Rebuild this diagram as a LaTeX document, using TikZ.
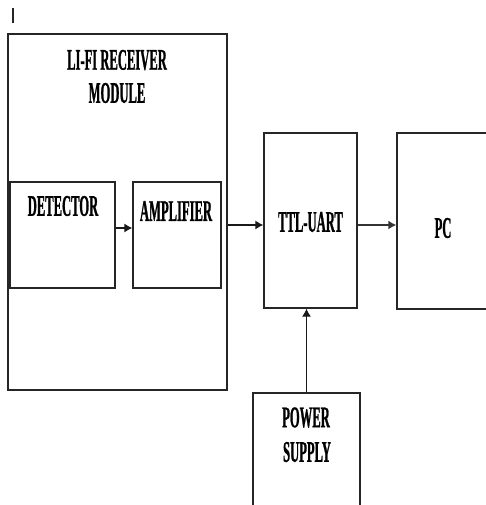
\documentclass[tikz,border=0pt]{standalone}
\usepackage{fontspec}
\newfontfamily\lblfont[FakeStretch=0.42,FakeBold=0.8]{Liberation Serif Bold}
\usetikzlibrary{arrows.meta}
\tikzset{
  blk/.style={draw=black!85, line width=1.3pt, inner sep=0pt, minimum width=#1},
  lbl/.style={font=\lblfont\fontsize{30}{30}\selectfont, inner sep=0pt, text=black},
  arr/.style={draw=black!90, line width=1.2pt, -{Latex[length=8pt,width=9pt]}},
}
\begin{document}
\begin{tikzpicture}[x=1pt,y=-1pt]
\useasboundingbox (0,0) rectangle (486,505);
\clip (0,0) rectangle (486,505);
\fill[white] (0,0) rectangle (486,505);
% stray mark
\draw[line width=2pt, black!85] (13,8) -- (13,23);
% boxes
\node[blk=219pt, minimum height=356pt] (outer) at (117.5,212) {};
\node[blk=105pt, minimum height=106pt] (det) at (62.5,235) {};
\node[blk=88pt, minimum height=106pt] (amp) at (177,235) {};
\node[blk=93pt, minimum height=175pt] (ttl) at (310.5,220.5) {};
\node[blk=98pt, minimum height=176pt] (pc) at (446,221) {};
\node[blk=107pt, minimum height=127pt] (pwr) at (306.5,456.5) {};
% labels
\node[lbl] (t1) at (117,60) {LI-FI RECEIVER};
\node[lbl] (t2) at (117,93) {MODULE};
\node[lbl] (t3) at (63,206) {DETECTOR};
\node[lbl] (t4) at (176,211) {AMPLIFIER};
\node[lbl] (t5) at (310.5,222) {TTL-UART};
\node[lbl] (t6) at (443,228) {PC};
\node[lbl] (t7) at (306,417.5) {POWER};
\node[lbl] (t8) at (307,452) {SUPPLY};
% connectors
\draw[arr] (det.east |- 0,228) -- (amp.west |- 0,228);
\draw[arr] (outer.east |- 0,225) -- (ttl.west |- 0,225);
\draw[arr, line width=2.2pt, draw=black!80] (ttl.east |- 0,225) -- (pc.west |- 0,225);
\draw[arr] (pwr.north) -- (pwr.north |- ttl.south);
\end{tikzpicture}
\end{document}
